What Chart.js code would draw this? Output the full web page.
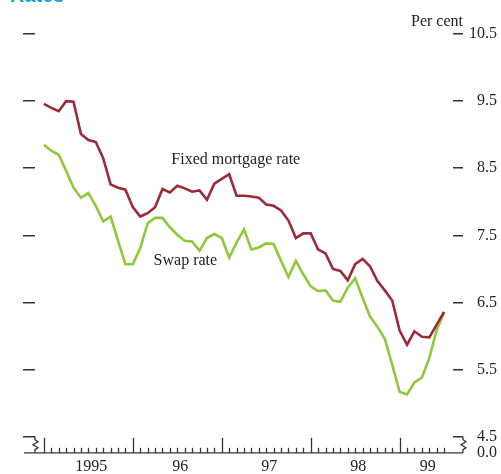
<!DOCTYPE html>
<html>
<head>
<meta charset="utf-8">
<script src="https://cdn.jsdelivr.net/npm/chart.js@4/dist/chart.umd.min.js"></script>
<style>
  html, body { margin: 0; padding: 0; background: #fff; }
  canvas { display: block; }
</style>
</head>
<body>
<canvas id="rates" width="501" height="474"></canvas>
<script>
// Monthly, Jan 1995 - Jul 1999 (per cent)
const fixedMortgage = [
  9.46, 9.40, 9.35, 9.50, 9.49, 9.01, 8.92, 8.89, 8.65, 8.26, 8.21, 8.18,
  7.92, 7.78, 7.83, 7.92, 8.19, 8.14, 8.24, 8.20, 8.15, 8.17, 8.03, 8.27,
  8.34, 8.41, 8.09, 8.09, 8.08, 8.06, 7.96, 7.94, 7.87, 7.72, 7.46, 7.53,
  7.53, 7.29, 7.23, 7.00, 6.97, 6.83, 7.07, 7.15, 7.04, 6.82, 6.68, 6.53,
  6.08, 5.87, 6.07, 5.99, 5.98, 6.17, 6.36
];
const swapRate = [
  8.85, 8.76, 8.70, 8.46, 8.21, 8.06, 8.13, 7.94, 7.71, 7.78, 7.42, 7.07,
  7.07, 7.31, 7.68, 7.76, 7.76, 7.62, 7.51, 7.42, 7.41, 7.27, 7.46, 7.52,
  7.46, 7.17, 7.39, 7.59, 7.29, 7.32, 7.38, 7.37, 7.12, 6.88, 7.12, 6.92,
  6.74, 6.67, 6.68, 6.53, 6.51, 6.72, 6.86, 6.57, 6.29, 6.14, 5.96, 5.57,
  5.17, 5.13, 5.31, 5.38, 5.67, 6.09, 6.35
];
const yearLabels = ["1995", "96", "97", "98", "99"];
const yearLabelPos = [6.4, 18.4, 30.4, 42.4, 51.8];
const yTicks = [4.5, 5.5, 6.5, 7.5, 8.5, 9.5, 10.5];
const axisZero = 4.26; // where the broken axis shows 0.0

const serif = "'Liberation Serif', 'Times New Roman', serif";
const ink = "#222";

const toPoints = (arr) => arr.map((v, i) => ({ x: i, y: v }));
const setYTicks = (scale) => {
  scale.ticks = [{ value: axisZero }, ...yTicks.map((v) => ({ value: v }))];
};
const tickColor = (c) => (c.tick && c.tick.value < 4.4 ? "rgba(0,0,0,0)" : "#333");

// Axis line with breaks, month ticks and text labels
const decorations = {
  id: "decorations",
  afterDraw(chart) {
    const { ctx, chartArea, scales } = chart;
    const x = scales.x;
    const y = scales.y;
    const base = chartArea.bottom;
    const top45 = y.getPixelForValue(4.5);

    ctx.save();
    ctx.strokeStyle = "#333";
    ctx.lineWidth = 1.3;

    // axis line
    ctx.beginPath();
    ctx.moveTo(24, base);
    ctx.lineTo(chartArea.right + 10, base);
    ctx.stroke();

    // month ticks pointing up
    for (let m = 0; m < fixedMortgage.length; m++) {
      const px = Math.round(x.getPixelForValue(m)) + 0.5;
      ctx.beginPath();
      ctx.moveTo(px, base);
      ctx.lineTo(px, base - (m % 12 === 0 ? 15 : 5));
      ctx.stroke();
    }

    // axis breaks
    const zigzag = (bx) => {
      ctx.beginPath();
      ctx.moveTo(bx, top45);
      ctx.lineTo(bx, top45 + 3);
      ctx.lineTo(bx + 3, top45 + 5);
      ctx.lineTo(bx - 2, top45 + 8);
      ctx.lineTo(bx + 3, top45 + 11);
      ctx.lineTo(bx, top45 + 13);
      ctx.lineTo(bx, base);
      ctx.stroke();
    };
    zigzag(chartArea.left);
    zigzag(chartArea.right + 10);

    // texts
    ctx.fillStyle = ink;
    ctx.font = "16px " + serif;
    ctx.textBaseline = "alphabetic";
    ctx.textAlign = "right";
    ctx.fillText("Per cent", 463, 26);
    ctx.textAlign = "left";
    ctx.fillText("Fixed mortgage rate", x.getPixelForValue(17.2), y.getPixelForValue(8.56));
    ctx.fillText("Swap rate", x.getPixelForValue(14.8), y.getPixelForValue(7.06));

    ctx.fillStyle = "#1ba1d8";
    ctx.font = "bold 20px 'Liberation Sans', Arial, sans-serif";
    ctx.fillText("Rates", 10, 2);
    ctx.restore();
  },
};

new Chart(document.getElementById("rates"), {
  type: "line",
  data: {
    datasets: [
      {
        label: "Fixed mortgage rate",
        data: toPoints(fixedMortgage),
        borderColor: "#9c2a3b",
        borderWidth: 2.6,
        pointRadius: 0,
        tension: 0,
        yAxisID: "y",
      },
      {
        label: "Swap rate",
        data: toPoints(swapRate),
        borderColor: "#8fc83a",
        borderWidth: 2.6,
        pointRadius: 0,
        tension: 0,
        yAxisID: "y",
      },
    ],
  },
  options: {
    responsive: false,
    animation: false,
    devicePixelRatio: 1,
    layout: { padding: { left: 23, right: 4, top: 34, bottom: -6 } },
    plugins: { legend: { display: false }, tooltip: { enabled: false } },
    scales: {
      x: {
        type: "linear",
        min: -1.2,
        max: 55.2,
        grid: { display: false, drawTicks: false, tickLength: 0 },
        border: { display: false },
        afterBuildTicks: (scale) => {
          scale.ticks = yearLabelPos.map((v) => ({ value: v }));
        },
        ticks: {
          autoSkip: false,
          maxRotation: 0,
          padding: 4,
          color: ink,
          font: { family: serif, size: 16 },
          callback: (v, i) => yearLabels[i],
        },
      },
      y: {
        position: "right",
        min: axisZero,
        max: 10.5,
        afterBuildTicks: setYTicks,
        grid: { drawOnChartArea: false, tickLength: 10, lineWidth: 1.5, color: tickColor },
        border: { display: false },
        ticks: {
          autoSkip: false,
          crossAlign: "far",
          padding: 3,
          color: ink,
          font: { family: serif, size: 16 },
          callback: (v) => (v < 4.4 ? "0.0" : v.toFixed(1)),
        },
      },
      yLeft: {
        position: "left",
        min: axisZero,
        max: 10.5,
        afterBuildTicks: setYTicks,
        grid: { drawOnChartArea: false, tickLength: 12, lineWidth: 1.5, color: tickColor },
        border: { display: false },
        ticks: { display: false },
      },
    },
  },
  plugins: [decorations],
});
</script>
</body>
</html>
